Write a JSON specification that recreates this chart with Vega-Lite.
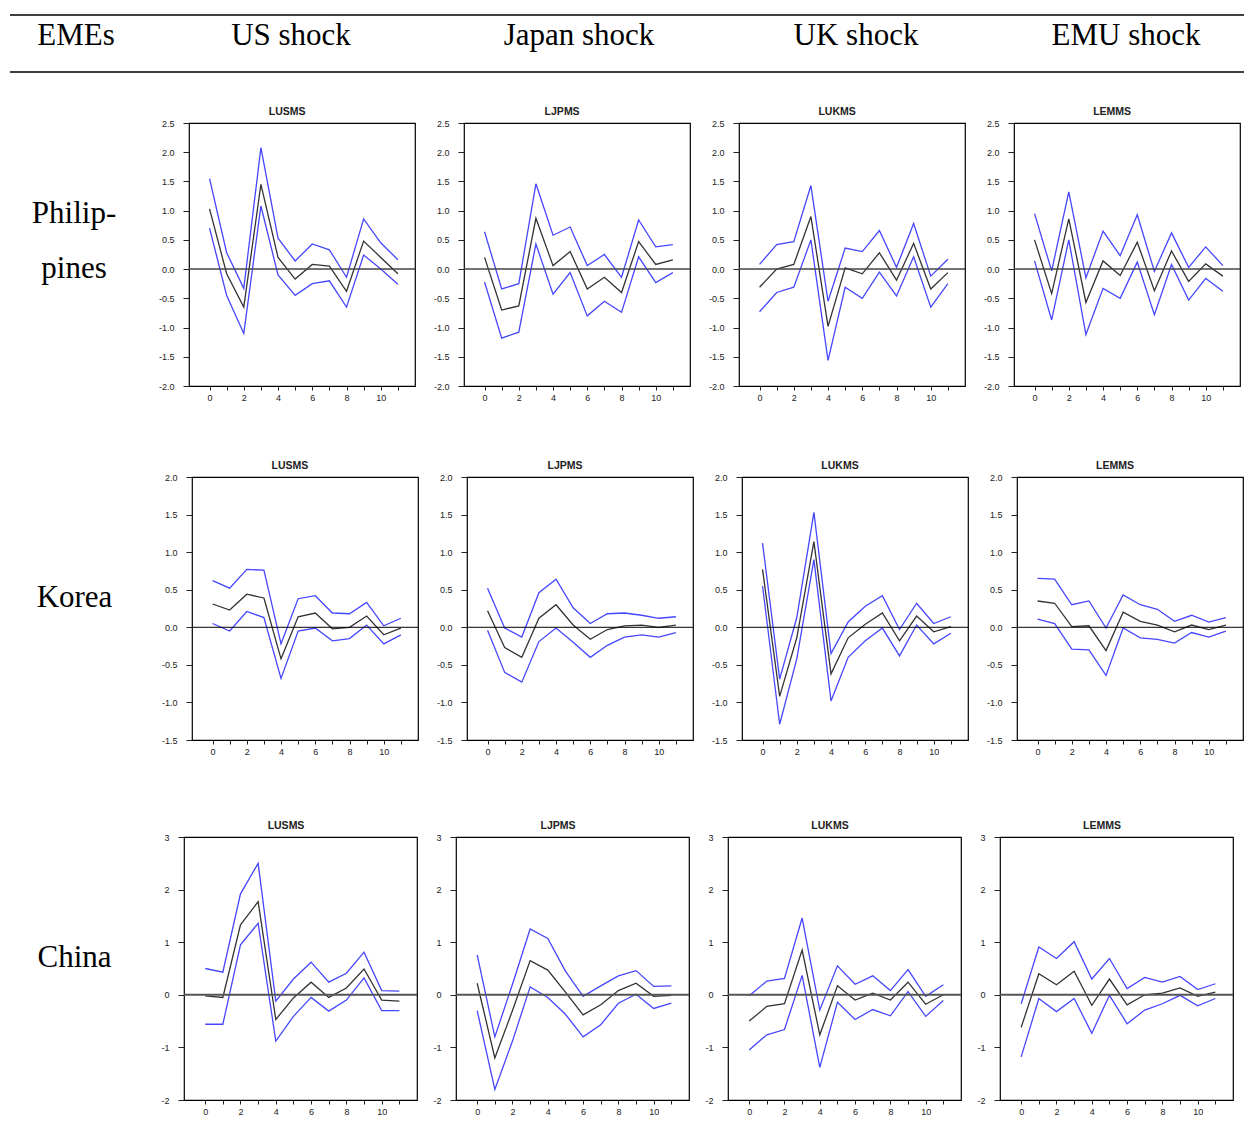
{
"$schema": "https://vega.github.io/schema/vega-lite/v6.json",
"background": "white",
"padding": {"left": 9, "top": 14, "right": 0, "bottom": 0},
"datasets": {
"PH_US": [{"h":0,"u":1.55,"m":1.03,"l":0.7},{"h":1,"u":0.28,"m":-0.08,"l":-0.45},{"h":2,"u":-0.33,"m":-0.65,"l":-1.1},{"h":3,"u":2.08,"m":1.45,"l":1.08},{"h":4,"u":0.53,"m":0.2,"l":-0.1},{"h":5,"u":0.14,"m":-0.17,"l":-0.45},{"h":6,"u":0.43,"m":0.08,"l":-0.25},{"h":7,"u":0.33,"m":0.05,"l":-0.2},{"h":8,"u":-0.14,"m":-0.38,"l":-0.65},{"h":9,"u":0.86,"m":0.48,"l":0.24},{"h":10,"u":0.45,"m":0.2,"l":0.0},{"h":11,"u":0.16,"m":-0.08,"l":-0.26}],
"PH_JP": [{"h":0,"u":0.64,"m":0.2,"l":-0.22},{"h":1,"u":-0.34,"m":-0.7,"l":-1.18},{"h":2,"u":-0.25,"m":-0.63,"l":-1.08},{"h":3,"u":1.46,"m":0.87,"l":0.43},{"h":4,"u":0.58,"m":0.06,"l":-0.43},{"h":5,"u":0.72,"m":0.3,"l":-0.06},{"h":6,"u":0.06,"m":-0.34,"l":-0.8},{"h":7,"u":0.25,"m":-0.14,"l":-0.55},{"h":8,"u":-0.14,"m":-0.4,"l":-0.74},{"h":9,"u":0.84,"m":0.47,"l":0.21},{"h":10,"u":0.38,"m":0.08,"l":-0.23},{"h":11,"u":0.42,"m":0.16,"l":-0.06}],
"PH_UK": [{"h":0,"u":0.08,"m":-0.31,"l":-0.73},{"h":1,"u":0.42,"m":0.0,"l":-0.4},{"h":2,"u":0.47,"m":0.08,"l":-0.31},{"h":3,"u":1.43,"m":0.9,"l":0.5},{"h":4,"u":-0.55,"m":-0.98,"l":-1.56},{"h":5,"u":0.36,"m":0.02,"l":-0.31},{"h":6,"u":0.3,"m":-0.08,"l":-0.5},{"h":7,"u":0.66,"m":0.28,"l":-0.05},{"h":8,"u":0.03,"m":-0.19,"l":-0.46},{"h":9,"u":0.78,"m":0.44,"l":0.21},{"h":10,"u":-0.12,"m":-0.34,"l":-0.65},{"h":11,"u":0.17,"m":-0.06,"l":-0.25}],
"PH_EM": [{"h":0,"u":0.95,"m":0.5,"l":0.14},{"h":1,"u":-0.03,"m":-0.42,"l":-0.87},{"h":2,"u":1.32,"m":0.86,"l":0.5},{"h":3,"u":-0.15,"m":-0.57,"l":-1.12},{"h":4,"u":0.65,"m":0.14,"l":-0.33},{"h":5,"u":0.23,"m":-0.11,"l":-0.5},{"h":6,"u":0.93,"m":0.46,"l":0.12},{"h":7,"u":-0.04,"m":-0.37,"l":-0.78},{"h":8,"u":0.62,"m":0.31,"l":0.08},{"h":9,"u":0.03,"m":-0.21,"l":-0.53},{"h":10,"u":0.38,"m":0.09,"l":-0.16},{"h":11,"u":0.06,"m":-0.12,"l":-0.38}],
"KR_US": [{"h":0,"u":0.62,"m":0.31,"l":0.05},{"h":1,"u":0.52,"m":0.23,"l":-0.05},{"h":2,"u":0.77,"m":0.44,"l":0.21},{"h":3,"u":0.76,"m":0.39,"l":0.13},{"h":4,"u":-0.22,"m":-0.42,"l":-0.68},{"h":5,"u":0.38,"m":0.14,"l":-0.05},{"h":6,"u":0.42,"m":0.19,"l":-0.01},{"h":7,"u":0.19,"m":-0.02,"l":-0.18},{"h":8,"u":0.18,"m":0.0,"l":-0.15},{"h":9,"u":0.33,"m":0.15,"l":0.03},{"h":10,"u":0.02,"m":-0.1,"l":-0.22},{"h":11,"u":0.12,"m":-0.01,"l":-0.1}],
"KR_JP": [{"h":0,"u":0.52,"m":0.22,"l":-0.04},{"h":1,"u":-0.01,"m":-0.27,"l":-0.6},{"h":2,"u":-0.13,"m":-0.4,"l":-0.73},{"h":3,"u":0.46,"m":0.12,"l":-0.19},{"h":4,"u":0.64,"m":0.3,"l":-0.01},{"h":5,"u":0.26,"m":0.03,"l":-0.2},{"h":6,"u":0.05,"m":-0.16,"l":-0.4},{"h":7,"u":0.18,"m":-0.03,"l":-0.24},{"h":8,"u":0.19,"m":0.02,"l":-0.13},{"h":9,"u":0.16,"m":0.03,"l":-0.1},{"h":10,"u":0.12,"m":0.0,"l":-0.13},{"h":11,"u":0.14,"m":0.03,"l":-0.07}],
"KR_UK": [{"h":0,"u":1.12,"m":0.77,"l":0.55},{"h":1,"u":-0.69,"m":-0.92,"l":-1.29},{"h":2,"u":0.13,"m":-0.14,"l":-0.42},{"h":3,"u":1.53,"m":1.14,"l":0.9},{"h":4,"u":-0.35,"m":-0.62,"l":-0.98},{"h":5,"u":0.07,"m":-0.14,"l":-0.4},{"h":6,"u":0.28,"m":0.04,"l":-0.18},{"h":7,"u":0.42,"m":0.19,"l":-0.01},{"h":8,"u":-0.03,"m":-0.18,"l":-0.38},{"h":9,"u":0.32,"m":0.15,"l":0.03},{"h":10,"u":0.05,"m":-0.06,"l":-0.22},{"h":11,"u":0.14,"m":0.01,"l":-0.08}],
"KR_EM": [{"h":0,"u":0.65,"m":0.35,"l":0.11},{"h":1,"u":0.64,"m":0.32,"l":0.05},{"h":2,"u":0.3,"m":0.01,"l":-0.29},{"h":3,"u":0.35,"m":0.02,"l":-0.3},{"h":4,"u":-0.01,"m":-0.31,"l":-0.64},{"h":5,"u":0.43,"m":0.2,"l":-0.01},{"h":6,"u":0.3,"m":0.08,"l":-0.14},{"h":7,"u":0.24,"m":0.03,"l":-0.16},{"h":8,"u":0.08,"m":-0.06,"l":-0.21},{"h":9,"u":0.16,"m":0.03,"l":-0.07},{"h":10,"u":0.07,"m":-0.03,"l":-0.13},{"h":11,"u":0.13,"m":0.03,"l":-0.05}],
"CN_US": [{"h":0,"u":0.5,"m":-0.02,"l":-0.56},{"h":1,"u":0.43,"m":-0.05,"l":-0.56},{"h":2,"u":1.92,"m":1.33,"l":0.95},{"h":3,"u":2.5,"m":1.77,"l":1.36},{"h":4,"u":-0.12,"m":-0.47,"l":-0.88},{"h":5,"u":0.3,"m":-0.06,"l":-0.41},{"h":6,"u":0.62,"m":0.24,"l":-0.05},{"h":7,"u":0.24,"m":-0.05,"l":-0.31},{"h":8,"u":0.41,"m":0.13,"l":-0.1},{"h":9,"u":0.81,"m":0.49,"l":0.32},{"h":10,"u":0.08,"m":-0.1,"l":-0.3},{"h":11,"u":0.07,"m":-0.12,"l":-0.3}],
"CN_JP": [{"h":0,"u":0.76,"m":0.22,"l":-0.3},{"h":1,"u":-0.8,"m":-1.2,"l":-1.8},{"h":2,"u":0.2,"m":-0.3,"l":-0.88},{"h":3,"u":1.25,"m":0.65,"l":0.15},{"h":4,"u":1.07,"m":0.47,"l":-0.05},{"h":5,"u":0.45,"m":0.05,"l":-0.37},{"h":6,"u":-0.03,"m":-0.38,"l":-0.8},{"h":7,"u":0.17,"m":-0.19,"l":-0.57},{"h":8,"u":0.36,"m":0.08,"l":-0.16},{"h":9,"u":0.46,"m":0.22,"l":0.01},{"h":10,"u":0.16,"m":-0.03,"l":-0.26},{"h":11,"u":0.17,"m":-0.01,"l":-0.16}],
"CN_UK": [{"h":0,"u":-0.02,"m":-0.5,"l":-1.05},{"h":1,"u":0.26,"m":-0.22,"l":-0.76},{"h":2,"u":0.31,"m":-0.17,"l":-0.66},{"h":3,"u":1.46,"m":0.85,"l":0.37},{"h":4,"u":-0.29,"m":-0.76,"l":-1.38},{"h":5,"u":0.55,"m":0.17,"l":-0.14},{"h":6,"u":0.2,"m":-0.1,"l":-0.47},{"h":7,"u":0.36,"m":0.03,"l":-0.28},{"h":8,"u":0.08,"m":-0.1,"l":-0.4},{"h":9,"u":0.48,"m":0.24,"l":0.06},{"h":10,"u":-0.03,"m":-0.18,"l":-0.41},{"h":11,"u":0.19,"m":0.0,"l":-0.11}],
"CN_EM": [{"h":0,"u":-0.17,"m":-0.62,"l":-1.18},{"h":1,"u":0.91,"m":0.4,"l":-0.07},{"h":2,"u":0.69,"m":0.19,"l":-0.32},{"h":3,"u":1.01,"m":0.45,"l":-0.07},{"h":4,"u":0.3,"m":-0.2,"l":-0.73},{"h":5,"u":0.69,"m":0.3,"l":-0.01},{"h":6,"u":0.12,"m":-0.19,"l":-0.55},{"h":7,"u":0.33,"m":0.0,"l":-0.29},{"h":8,"u":0.24,"m":0.03,"l":-0.17},{"h":9,"u":0.35,"m":0.13,"l":-0.01},{"h":10,"u":0.1,"m":-0.03,"l":-0.21},{"h":11,"u":0.21,"m":0.05,"l":-0.07}]
},
"spacing": 32,
"vconcat": [
{
"spacing": 0,
"vconcat": [
{"width": 1235, "height": 1, "view": {"stroke": null}, "data": {"values": [{}]}, "mark": {"type": "rule", "color": "#000", "strokeWidth": 1.5}, "encoding": {"y": {"datum": 1, "type": "quantitative", "scale": {"domain": [0, 1]}, "axis": null}}},
{
"spacing": 0,
"hconcat": [
{"width": 132, "height": 55, "view": {"stroke": null}, "data": {"values": [{"t": "EMEs"}]}, "mark": {"type": "text", "font": "Liberation Serif", "fontSize": 31, "baseline": "middle", "dy": -8, "color": "#000"}, "encoding": {"text": {"field": "t"}}},
{"width": 298, "height": 55, "view": {"stroke": null}, "data": {"values": [{"t": "US shock"}]}, "mark": {"type": "text", "font": "Liberation Serif", "fontSize": 31, "baseline": "middle", "dy": -8, "color": "#000"}, "encoding": {"text": {"field": "t"}}},
{"width": 278, "height": 55, "view": {"stroke": null}, "data": {"values": [{"t": "Japan shock"}]}, "mark": {"type": "text", "font": "Liberation Serif", "fontSize": 31, "baseline": "middle", "dy": -8, "color": "#000"}, "encoding": {"text": {"field": "t"}}},
{"width": 276, "height": 55, "view": {"stroke": null}, "data": {"values": [{"t": "UK shock"}]}, "mark": {"type": "text", "font": "Liberation Serif", "fontSize": 31, "baseline": "middle", "dy": -8, "color": "#000"}, "encoding": {"text": {"field": "t"}}},
{"width": 13, "height": 55, "view": {"stroke": null}, "data": {"values": [{"t": ""}]}, "mark": {"type": "text", "font": "Liberation Serif", "fontSize": 31, "baseline": "middle", "color": "#000"}, "encoding": {"text": {"field": "t"}}},
{"width": 238, "height": 55, "view": {"stroke": null}, "data": {"values": [{"t": "EMU shock"}]}, "mark": {"type": "text", "font": "Liberation Serif", "fontSize": 31, "baseline": "middle", "dy": -8, "color": "#000"}, "encoding": {"text": {"field": "t"}}}
]
},
{"width": 1235, "height": 1, "view": {"stroke": null}, "data": {"values": [{}]}, "mark": {"type": "rule", "color": "#000", "strokeWidth": 1.5}, "encoding": {"y": {"datum": 1, "type": "quantitative", "scale": {"domain": [0, 1]}, "axis": null}}}
]
},
{
"spacing": 62,
"vconcat": [
{
"spacing": 56,
"vconcat": [
{
"spacing": 15,
"hconcat": [
{"width": 132, "height": 263, "view": {"stroke": null}, "data": {"values": [{"label": ["Philip-", "pines"]}]}, "mark": {"type": "text", "font": "Liberation Serif", "fontSize": 31, "lineHeight": 55, "baseline": "middle", "dy": -41, "dx": -2, "color": "#000"}, "encoding": {"text": {"field": "label"}}},
{"width": 226, "height": 263, "title": "LUSMS", "layer": [
 {"data": {"name": "PH_US"}, "transform": [{"fold": ["u", "m", "l"], "as": ["s", "v"]}], "mark": {"type": "line", "strokeWidth": 1.3}, "encoding": {
  "x": {"field": "h", "type": "quantitative", "scale": {"domain": [-1.2, 12], "nice": false, "zero": false}, "axis": {"values": [0,1,2,3,4,5,6,7,8,9,10,11], "labelExpr": "datum.value % 2 == 0 ? datum.label : ''", "title": null}},
  "y": {"field": "v", "type": "quantitative", "scale": {"domain": [-2, 2.5], "nice": false, "zero": false}, "axis": {"values": [-2,-1.5,-1,-0.5,0,0.5,1,1.5,2,2.5], "format": ".1f", "title": null, "minExtent": 30, "maxExtent": 30}},
  "color": {"field": "s", "type": "nominal", "scale": {"domain": ["u", "m", "l"], "range": ["#4646ff", "#333333", "#4646ff"]}, "legend": null}}},
 {"data": {"values": [{}]}, "mark": {"type": "rule", "color": "#444", "strokeWidth": 1.5}, "encoding": {"y": {"datum": 0, "type": "quantitative", "scale": {"domain": [-2, 2.5], "nice": false, "zero": false}, "axis": {"values": [-2,-1.5,-1,-0.5,0,0.5,1,1.5,2,2.5], "format": ".1f", "title": null, "minExtent": 30, "maxExtent": 30}}}}]},
{"width": 226, "height": 263, "title": "LJPMS", "layer": [
 {"data": {"name": "PH_JP"}, "transform": [{"fold": ["u", "m", "l"], "as": ["s", "v"]}], "mark": {"type": "line", "strokeWidth": 1.3}, "encoding": {
  "x": {"field": "h", "type": "quantitative", "scale": {"domain": [-1.2, 12], "nice": false, "zero": false}, "axis": {"values": [0,1,2,3,4,5,6,7,8,9,10,11], "labelExpr": "datum.value % 2 == 0 ? datum.label : ''", "title": null}},
  "y": {"field": "v", "type": "quantitative", "scale": {"domain": [-2, 2.5], "nice": false, "zero": false}, "axis": {"values": [-2,-1.5,-1,-0.5,0,0.5,1,1.5,2,2.5], "format": ".1f", "title": null, "minExtent": 30, "maxExtent": 30}},
  "color": {"field": "s", "type": "nominal", "scale": {"domain": ["u", "m", "l"], "range": ["#4646ff", "#333333", "#4646ff"]}, "legend": null}}},
 {"data": {"values": [{}]}, "mark": {"type": "rule", "color": "#444", "strokeWidth": 1.5}, "encoding": {"y": {"datum": 0, "type": "quantitative", "scale": {"domain": [-2, 2.5], "nice": false, "zero": false}, "axis": {"values": [-2,-1.5,-1,-0.5,0,0.5,1,1.5,2,2.5], "format": ".1f", "title": null, "minExtent": 30, "maxExtent": 30}}}}]},
{"width": 226, "height": 263, "title": "LUKMS", "layer": [
 {"data": {"name": "PH_UK"}, "transform": [{"fold": ["u", "m", "l"], "as": ["s", "v"]}], "mark": {"type": "line", "strokeWidth": 1.3}, "encoding": {
  "x": {"field": "h", "type": "quantitative", "scale": {"domain": [-1.2, 12], "nice": false, "zero": false}, "axis": {"values": [0,1,2,3,4,5,6,7,8,9,10,11], "labelExpr": "datum.value % 2 == 0 ? datum.label : ''", "title": null}},
  "y": {"field": "v", "type": "quantitative", "scale": {"domain": [-2, 2.5], "nice": false, "zero": false}, "axis": {"values": [-2,-1.5,-1,-0.5,0,0.5,1,1.5,2,2.5], "format": ".1f", "title": null, "minExtent": 30, "maxExtent": 30}},
  "color": {"field": "s", "type": "nominal", "scale": {"domain": ["u", "m", "l"], "range": ["#4646ff", "#333333", "#4646ff"]}, "legend": null}}},
 {"data": {"values": [{}]}, "mark": {"type": "rule", "color": "#444", "strokeWidth": 1.5}, "encoding": {"y": {"datum": 0, "type": "quantitative", "scale": {"domain": [-2, 2.5], "nice": false, "zero": false}, "axis": {"values": [-2,-1.5,-1,-0.5,0,0.5,1,1.5,2,2.5], "format": ".1f", "title": null, "minExtent": 30, "maxExtent": 30}}}}]},
{"width": 226, "height": 263, "title": "LEMMS", "layer": [
 {"data": {"name": "PH_EM"}, "transform": [{"fold": ["u", "m", "l"], "as": ["s", "v"]}], "mark": {"type": "line", "strokeWidth": 1.3}, "encoding": {
  "x": {"field": "h", "type": "quantitative", "scale": {"domain": [-1.2, 12], "nice": false, "zero": false}, "axis": {"values": [0,1,2,3,4,5,6,7,8,9,10,11], "labelExpr": "datum.value % 2 == 0 ? datum.label : ''", "title": null}},
  "y": {"field": "v", "type": "quantitative", "scale": {"domain": [-2, 2.5], "nice": false, "zero": false}, "axis": {"values": [-2,-1.5,-1,-0.5,0,0.5,1,1.5,2,2.5], "format": ".1f", "title": null, "minExtent": 30, "maxExtent": 30}},
  "color": {"field": "s", "type": "nominal", "scale": {"domain": ["u", "m", "l"], "range": ["#4646ff", "#333333", "#4646ff"]}, "legend": null}}},
 {"data": {"values": [{}]}, "mark": {"type": "rule", "color": "#444", "strokeWidth": 1.5}, "encoding": {"y": {"datum": 0, "type": "quantitative", "scale": {"domain": [-2, 2.5], "nice": false, "zero": false}, "axis": {"values": [-2,-1.5,-1,-0.5,0,0.5,1,1.5,2,2.5], "format": ".1f", "title": null, "minExtent": 30, "maxExtent": 30}}}}]}
]
},
{
"spacing": 15,
"hconcat": [
{"width": 135, "height": 263, "view": {"stroke": null}, "data": {"values": [{"label": "Korea"}]}, "mark": {"type": "text", "font": "Liberation Serif", "fontSize": 31, "baseline": "middle", "dy": -11, "dx": -3, "color": "#000"}, "encoding": {"text": {"field": "label"}}},
{"width": 226, "height": 263, "title": "LUSMS", "layer": [
 {"data": {"name": "KR_US"}, "transform": [{"fold": ["u", "m", "l"], "as": ["s", "v"]}], "mark": {"type": "line", "strokeWidth": 1.3}, "encoding": {
  "x": {"field": "h", "type": "quantitative", "scale": {"domain": [-1.2, 12], "nice": false, "zero": false}, "axis": {"values": [0,1,2,3,4,5,6,7,8,9,10,11], "labelExpr": "datum.value % 2 == 0 ? datum.label : ''", "title": null}},
  "y": {"field": "v", "type": "quantitative", "scale": {"domain": [-1.5, 2], "nice": false, "zero": false}, "axis": {"values": [-1.5,-1,-0.5,0,0.5,1,1.5,2], "format": ".1f", "title": null, "minExtent": 30, "maxExtent": 30}},
  "color": {"field": "s", "type": "nominal", "scale": {"domain": ["u", "m", "l"], "range": ["#4646ff", "#333333", "#4646ff"]}, "legend": null}}},
 {"data": {"values": [{}]}, "mark": {"type": "rule", "color": "#000", "strokeWidth": 1}, "encoding": {"y": {"datum": 0, "type": "quantitative", "scale": {"domain": [-1.5, 2], "nice": false, "zero": false}, "axis": {"values": [-1.5,-1,-0.5,0,0.5,1,1.5,2], "format": ".1f", "title": null, "minExtent": 30, "maxExtent": 30}}}}]},
{"width": 226, "height": 263, "title": "LJPMS", "layer": [
 {"data": {"name": "KR_JP"}, "transform": [{"fold": ["u", "m", "l"], "as": ["s", "v"]}], "mark": {"type": "line", "strokeWidth": 1.3}, "encoding": {
  "x": {"field": "h", "type": "quantitative", "scale": {"domain": [-1.2, 12], "nice": false, "zero": false}, "axis": {"values": [0,1,2,3,4,5,6,7,8,9,10,11], "labelExpr": "datum.value % 2 == 0 ? datum.label : ''", "title": null}},
  "y": {"field": "v", "type": "quantitative", "scale": {"domain": [-1.5, 2], "nice": false, "zero": false}, "axis": {"values": [-1.5,-1,-0.5,0,0.5,1,1.5,2], "format": ".1f", "title": null, "minExtent": 30, "maxExtent": 30}},
  "color": {"field": "s", "type": "nominal", "scale": {"domain": ["u", "m", "l"], "range": ["#4646ff", "#333333", "#4646ff"]}, "legend": null}}},
 {"data": {"values": [{}]}, "mark": {"type": "rule", "color": "#000", "strokeWidth": 1}, "encoding": {"y": {"datum": 0, "type": "quantitative", "scale": {"domain": [-1.5, 2], "nice": false, "zero": false}, "axis": {"values": [-1.5,-1,-0.5,0,0.5,1,1.5,2], "format": ".1f", "title": null, "minExtent": 30, "maxExtent": 30}}}}]},
{"width": 226, "height": 263, "title": "LUKMS", "layer": [
 {"data": {"name": "KR_UK"}, "transform": [{"fold": ["u", "m", "l"], "as": ["s", "v"]}], "mark": {"type": "line", "strokeWidth": 1.3}, "encoding": {
  "x": {"field": "h", "type": "quantitative", "scale": {"domain": [-1.2, 12], "nice": false, "zero": false}, "axis": {"values": [0,1,2,3,4,5,6,7,8,9,10,11], "labelExpr": "datum.value % 2 == 0 ? datum.label : ''", "title": null}},
  "y": {"field": "v", "type": "quantitative", "scale": {"domain": [-1.5, 2], "nice": false, "zero": false}, "axis": {"values": [-1.5,-1,-0.5,0,0.5,1,1.5,2], "format": ".1f", "title": null, "minExtent": 30, "maxExtent": 30}},
  "color": {"field": "s", "type": "nominal", "scale": {"domain": ["u", "m", "l"], "range": ["#4646ff", "#333333", "#4646ff"]}, "legend": null}}},
 {"data": {"values": [{}]}, "mark": {"type": "rule", "color": "#000", "strokeWidth": 1}, "encoding": {"y": {"datum": 0, "type": "quantitative", "scale": {"domain": [-1.5, 2], "nice": false, "zero": false}, "axis": {"values": [-1.5,-1,-0.5,0,0.5,1,1.5,2], "format": ".1f", "title": null, "minExtent": 30, "maxExtent": 30}}}}]},
{"width": 226, "height": 263, "title": "LEMMS", "layer": [
 {"data": {"name": "KR_EM"}, "transform": [{"fold": ["u", "m", "l"], "as": ["s", "v"]}], "mark": {"type": "line", "strokeWidth": 1.3}, "encoding": {
  "x": {"field": "h", "type": "quantitative", "scale": {"domain": [-1.2, 12], "nice": false, "zero": false}, "axis": {"values": [0,1,2,3,4,5,6,7,8,9,10,11], "labelExpr": "datum.value % 2 == 0 ? datum.label : ''", "title": null}},
  "y": {"field": "v", "type": "quantitative", "scale": {"domain": [-1.5, 2], "nice": false, "zero": false}, "axis": {"values": [-1.5,-1,-0.5,0,0.5,1,1.5,2], "format": ".1f", "title": null, "minExtent": 30, "maxExtent": 30}},
  "color": {"field": "s", "type": "nominal", "scale": {"domain": ["u", "m", "l"], "range": ["#4646ff", "#333333", "#4646ff"]}, "legend": null}}},
 {"data": {"values": [{}]}, "mark": {"type": "rule", "color": "#000", "strokeWidth": 1}, "encoding": {"y": {"datum": 0, "type": "quantitative", "scale": {"domain": [-1.5, 2], "nice": false, "zero": false}, "axis": {"values": [-1.5,-1,-0.5,0,0.5,1,1.5,2], "format": ".1f", "title": null, "minExtent": 30, "maxExtent": 30}}}}]}
]
}
]
},
{
"spacing": 6,
"hconcat": [
{"width": 137, "height": 263, "view": {"stroke": null}, "data": {"values": [{"label": "China"}]}, "mark": {"type": "text", "font": "Liberation Serif", "fontSize": 31, "baseline": "middle", "dy": -11, "dx": -4, "color": "#000"}, "encoding": {"text": {"field": "label"}}},
{"width": 233, "height": 263, "title": "LUSMS", "layer": [
 {"data": {"name": "CN_US"}, "transform": [{"fold": ["u", "m", "l"], "as": ["s", "v"]}], "mark": {"type": "line", "strokeWidth": 1.3}, "encoding": {
  "x": {"field": "h", "type": "quantitative", "scale": {"domain": [-1.2, 12], "nice": false, "zero": false}, "axis": {"values": [0,1,2,3,4,5,6,7,8,9,10,11], "labelExpr": "datum.value % 2 == 0 ? datum.label : ''", "title": null}},
  "y": {"field": "v", "type": "quantitative", "scale": {"domain": [-2, 3], "nice": false, "zero": false}, "axis": {"values": [-2,-1,0,1,2,3], "format": "d", "title": null, "minExtent": 30, "maxExtent": 30}},
  "color": {"field": "s", "type": "nominal", "scale": {"domain": ["u", "m", "l"], "range": ["#4646ff", "#333333", "#4646ff"]}, "legend": null}}},
 {"data": {"values": [{}]}, "mark": {"type": "rule", "color": "#555", "strokeWidth": 2}, "encoding": {"y": {"datum": 0, "type": "quantitative", "scale": {"domain": [-2, 3], "nice": false, "zero": false}, "axis": {"values": [-2,-1,0,1,2,3], "format": "d", "title": null, "minExtent": 30, "maxExtent": 30}}}}]},
{"width": 233, "height": 263, "title": "LJPMS", "layer": [
 {"data": {"name": "CN_JP"}, "transform": [{"fold": ["u", "m", "l"], "as": ["s", "v"]}], "mark": {"type": "line", "strokeWidth": 1.3}, "encoding": {
  "x": {"field": "h", "type": "quantitative", "scale": {"domain": [-1.2, 12], "nice": false, "zero": false}, "axis": {"values": [0,1,2,3,4,5,6,7,8,9,10,11], "labelExpr": "datum.value % 2 == 0 ? datum.label : ''", "title": null}},
  "y": {"field": "v", "type": "quantitative", "scale": {"domain": [-2, 3], "nice": false, "zero": false}, "axis": {"values": [-2,-1,0,1,2,3], "format": "d", "title": null, "minExtent": 30, "maxExtent": 30}},
  "color": {"field": "s", "type": "nominal", "scale": {"domain": ["u", "m", "l"], "range": ["#4646ff", "#333333", "#4646ff"]}, "legend": null}}},
 {"data": {"values": [{}]}, "mark": {"type": "rule", "color": "#555", "strokeWidth": 2}, "encoding": {"y": {"datum": 0, "type": "quantitative", "scale": {"domain": [-2, 3], "nice": false, "zero": false}, "axis": {"values": [-2,-1,0,1,2,3], "format": "d", "title": null, "minExtent": 30, "maxExtent": 30}}}}]},
{"width": 233, "height": 263, "title": "LUKMS", "layer": [
 {"data": {"name": "CN_UK"}, "transform": [{"fold": ["u", "m", "l"], "as": ["s", "v"]}], "mark": {"type": "line", "strokeWidth": 1.3}, "encoding": {
  "x": {"field": "h", "type": "quantitative", "scale": {"domain": [-1.2, 12], "nice": false, "zero": false}, "axis": {"values": [0,1,2,3,4,5,6,7,8,9,10,11], "labelExpr": "datum.value % 2 == 0 ? datum.label : ''", "title": null}},
  "y": {"field": "v", "type": "quantitative", "scale": {"domain": [-2, 3], "nice": false, "zero": false}, "axis": {"values": [-2,-1,0,1,2,3], "format": "d", "title": null, "minExtent": 30, "maxExtent": 30}},
  "color": {"field": "s", "type": "nominal", "scale": {"domain": ["u", "m", "l"], "range": ["#4646ff", "#333333", "#4646ff"]}, "legend": null}}},
 {"data": {"values": [{}]}, "mark": {"type": "rule", "color": "#555", "strokeWidth": 2}, "encoding": {"y": {"datum": 0, "type": "quantitative", "scale": {"domain": [-2, 3], "nice": false, "zero": false}, "axis": {"values": [-2,-1,0,1,2,3], "format": "d", "title": null, "minExtent": 30, "maxExtent": 30}}}}]},
{"width": 233, "height": 263, "title": "LEMMS", "layer": [
 {"data": {"name": "CN_EM"}, "transform": [{"fold": ["u", "m", "l"], "as": ["s", "v"]}], "mark": {"type": "line", "strokeWidth": 1.3}, "encoding": {
  "x": {"field": "h", "type": "quantitative", "scale": {"domain": [-1.2, 12], "nice": false, "zero": false}, "axis": {"values": [0,1,2,3,4,5,6,7,8,9,10,11], "labelExpr": "datum.value % 2 == 0 ? datum.label : ''", "title": null}},
  "y": {"field": "v", "type": "quantitative", "scale": {"domain": [-2, 3], "nice": false, "zero": false}, "axis": {"values": [-2,-1,0,1,2,3], "format": "d", "title": null, "minExtent": 30, "maxExtent": 30}},
  "color": {"field": "s", "type": "nominal", "scale": {"domain": ["u", "m", "l"], "range": ["#4646ff", "#333333", "#4646ff"]}, "legend": null}}},
 {"data": {"values": [{}]}, "mark": {"type": "rule", "color": "#555", "strokeWidth": 2}, "encoding": {"y": {"datum": 0, "type": "quantitative", "scale": {"domain": [-2, 3], "nice": false, "zero": false}, "axis": {"values": [-2,-1,0,1,2,3], "format": "d", "title": null, "minExtent": 30, "maxExtent": 30}}}}]}
]
}
]
}
],
"config": {
 "view": {"stroke": "#000", "strokeWidth": 1.2},
 "axis": {"domain": false, "grid": false, "ticks": true, "tickColor": "#222", "labelFont": "Liberation Sans", "labelFontSize": 9, "labelColor": "#222"},
 "axisX": {"tickSize": 4, "labelPadding": 3},
 "axisY": {"tickSize": 6, "labelPadding": 9},
 "title": {"font": "Liberation Sans", "fontSize": 10.5, "fontWeight": "bold", "color": "#222", "offset": 2, "frame": "bounds"},
 "locale": {"number": {"decimal": ".", "thousands": ",", "grouping": [3], "currency": ["$", ""], "minus": "-"}}
}
}
